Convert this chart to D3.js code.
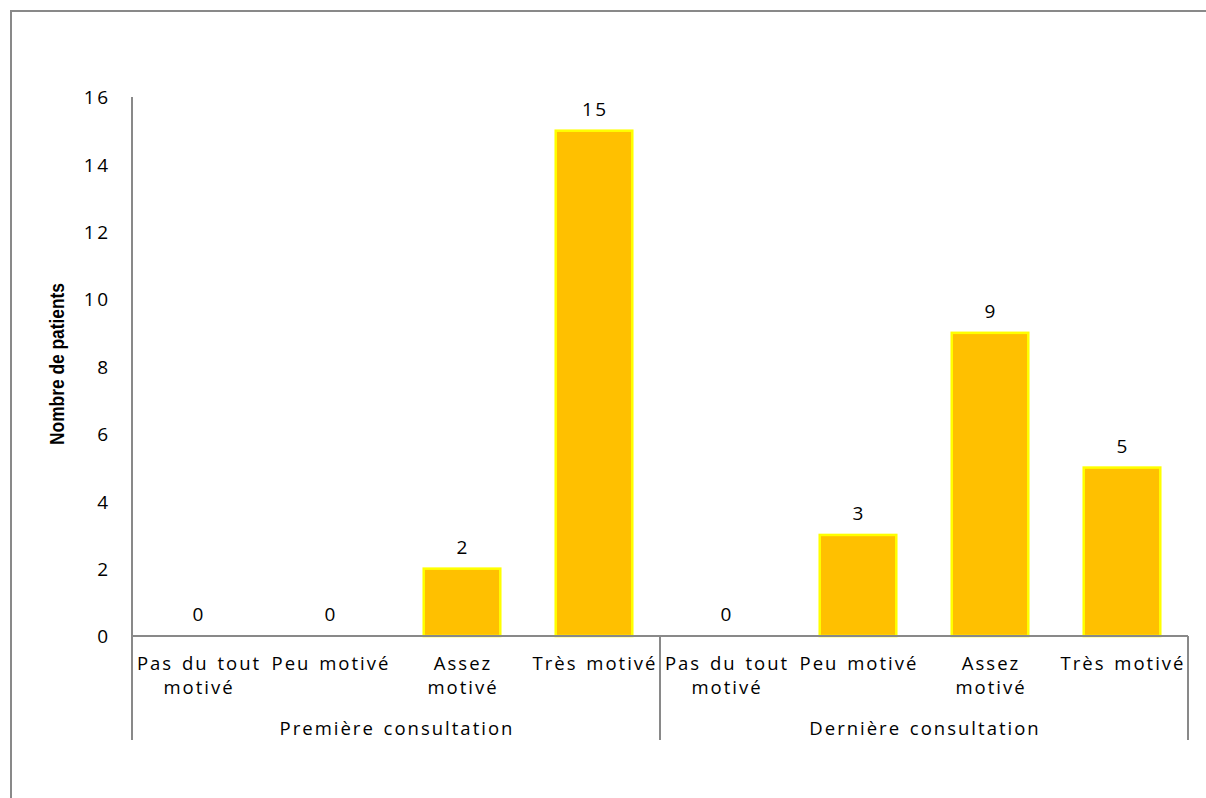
<!DOCTYPE html>
<html>
<head>
<meta charset="utf-8">
<script src="https://cdn.jsdelivr.net/npm/d3@7"></script>
<style>
  html, body { margin: 0; padding: 0; background: #fff; }
  svg { display: block; }
  text { font-family: "Open Sans", "Noto Sans", sans-serif; fill: #000; }
</style>
</head>
<body>
<svg id="chart" width="1206" height="798"></svg>
<script>
// ---- data ----
const groups = ["Première consultation", "Dernière consultation"];
const categories = ["Pas du tout motivé", "Peu motivé", "Assez motivé", "Très motivé"];
const categoryLines = [["Pas du tout", "motivé"], ["Peu motivé"], ["Assez", "motivé"], ["Très motivé"]];
const valuesPremiere = [0, 0, 2, 15];
const valuesDerniere = [0, 3, 9, 5];
const yTicks = [0, 2, 4, 6, 8, 10, 12, 14, 16];
const yLabel = "Nombre de patients";

(function () {
const seriesValues = [valuesPremiere, valuesDerniere];
const rows = [];
groups.forEach((g, gi) => {
  categories.forEach((c, ci) => {
    rows.push({ key: g + "|" + c, group: g, gi, ci, value: seriesValues[gi][ci] });
  });
});

const svg = d3.select("#chart");
const W = 1206, H = 798;
const pLeft = 132, pRight = 1188, pTop = 97, base = 636, axisBottom = 740;
const FS = "18.5px", LS = 2, WS = "2px";
const NUM_FS = "19px", NUM_LS = 2.5;

// outer frame
svg.append("rect")
  .attr("x", 11).attr("y", 11)
  .attr("width", W + 20).attr("height", H + 20)
  .attr("fill", "none").attr("stroke", "#898989").attr("stroke-width", 2);

const x = d3.scaleBand().domain(rows.map(d => d.key)).range([pLeft, pRight]).paddingInner(0.42).paddingOuter(0.21);
const y = d3.scaleLinear().domain([0, 16]).range([base, pTop]);
const xg = d3.scaleBand().domain(groups).range([pLeft, pRight]);

// y axis
const yAxis = d3.axisLeft(y).tickValues(yTicks).tickSize(0).tickPadding(0).tickFormat(d3.format("d"));
const ya = svg.append("g").attr("transform", `translate(${pLeft},0)`).call(yAxis);
ya.select(".domain").remove();
ya.selectAll("text")
  .attr("x", -24 + NUM_LS)
  .attr("dy", "0.36em")
  .style("font-family", '"Open Sans", sans-serif')
  .style("font-size", NUM_FS)
  .style("letter-spacing", NUM_LS + "px")
  .attr("fill", "#000");

svg.append("line").attr("x1", pLeft).attr("x2", pLeft).attr("y1", pTop).attr("y2", axisBottom)
  .attr("stroke", "#898989").attr("stroke-width", 2);

// y label
svg.append("text")
  .attr("transform", `translate(64,364) rotate(-90)`)
  .attr("text-anchor", "middle")
  .attr("textLength", 162)
  .attr("lengthAdjust", "spacingAndGlyphs")
  .style("font-family", '"Liberation Sans Narrow", "Arial Narrow", "Liberation Sans", sans-serif')
  .style("font-weight", "bold")
  .style("font-size", "20px")
  .text(yLabel);

// bars
svg.append("g").selectAll("rect").data(rows.filter(d => d.value > 0)).join("rect")
  .attr("x", d => x(d.key))
  .attr("y", d => y(d.value))
  .attr("width", x.bandwidth())
  .attr("height", d => y(0) - y(d.value))
  .attr("fill", "#FFC000")
  .attr("stroke", "#FFFF00")
  .attr("stroke-width", 2.5);

// baseline
svg.append("line").attr("x1", pLeft).attr("x2", pRight).attr("y1", base).attr("y2", base)
  .attr("stroke", "#898989").attr("stroke-width", 2);

// value labels
svg.append("g").selectAll("text").data(rows).join("text")
  .attr("x", d => x(d.key) + x.bandwidth() / 2 + NUM_LS / 2)
  .attr("y", d => y(d.value) - 15)
  .attr("text-anchor", "middle")
  .style("font-size", NUM_FS)
  .style("letter-spacing", NUM_LS + "px")
  .text(d => d.value);

// category labels
const catG = svg.append("g");
rows.forEach(d => {
  const cx = x(d.key) + x.bandwidth() / 2 + LS / 2;
  categoryLines[d.ci].forEach((ln, li) => {
    catG.append("text")
      .attr("x", cx).attr("y", 670 + li * 24)
      .attr("text-anchor", "middle")
      .style("font-size", FS)
      .style("letter-spacing", LS + "px")
      .style("word-spacing", WS)
      .text(ln);
  });
});

// group separators
const seps = [pLeft, xg(groups[1]), pRight];
svg.append("g").selectAll("line").data(seps).join("line")
  .attr("x1", d => d).attr("x2", d => d).attr("y1", base).attr("y2", axisBottom)
  .attr("stroke", "#898989").attr("stroke-width", 2);

// group labels
svg.append("g").selectAll("text").data(groups).join("text")
  .attr("x", d => xg(d) + xg.bandwidth() / 2 + LS / 2)
  .attr("y", 735)
  .attr("text-anchor", "middle")
  .style("font-size", FS)
  .style("letter-spacing", LS + "px")
  .style("word-spacing", WS)
  .text(d => d);
})();
</script>
</body>
</html>
